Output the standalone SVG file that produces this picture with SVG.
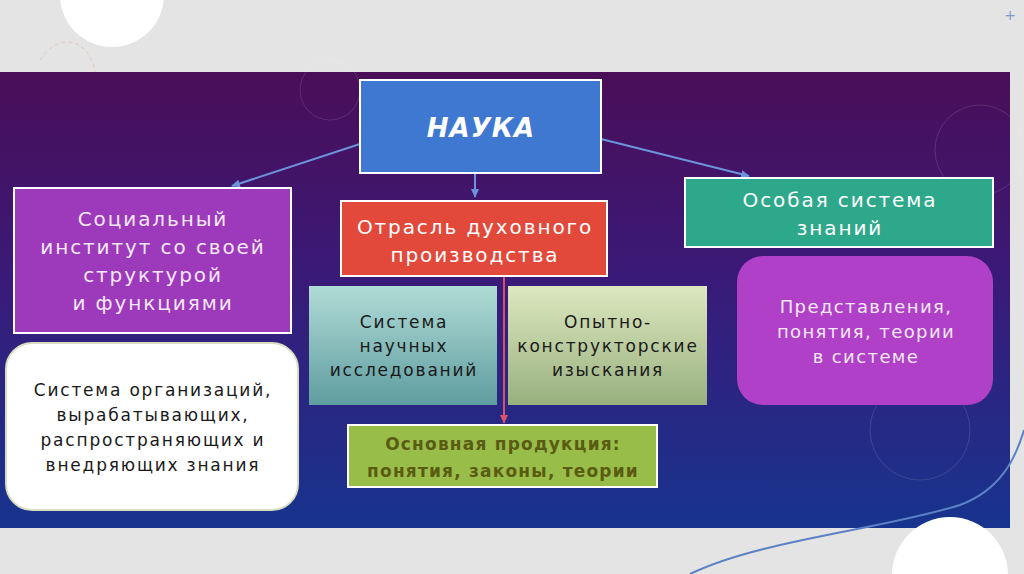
<svg xmlns="http://www.w3.org/2000/svg" width="1024" height="574" viewBox="0 0 1024 574">
<defs>
<linearGradient id="bg" x1="0" y1="0" x2="0" y2="1">
<stop offset="0" stop-color="#4a0e58"/>
<stop offset="0.45" stop-color="#3a1a78"/>
<stop offset="1" stop-color="#17348e"/>
</linearGradient>
<linearGradient id="gTeal" x1="0" y1="0" x2="0" y2="1">
<stop offset="0" stop-color="#b0dcd6"/>
<stop offset="1" stop-color="#5f9ca0"/>
</linearGradient>
<linearGradient id="gOlive" x1="0" y1="0" x2="0" y2="1">
<stop offset="0" stop-color="#dde8c0"/>
<stop offset="1" stop-color="#98b07e"/>
</linearGradient>
<marker id="ab" markerWidth="10" markerHeight="10" refX="8" refY="5" orient="auto" markerUnits="userSpaceOnUse">
<path d="M0,1 L9,5 L0,9 Z" fill="#6d93dc"/>
</marker>
<marker id="ar" markerWidth="10" markerHeight="10" refX="8" refY="5" orient="auto" markerUnits="userSpaceOnUse">
<path d="M0,1 L9,5 L0,9 Z" fill="#d8506a"/>
</marker>
</defs>
<style>
text{font-family:"DejaVu Sans","Open Sans",sans-serif;text-anchor:middle}
.lt{fill:#f3e8f5;font-size:20px;letter-spacing:1.9px}
.dk{fill:#1a1a1a;font-size:17px;letter-spacing:1.8px}
.wb{stroke:#ffffff;stroke-width:2}
.conn{stroke:#6d93dc;stroke-width:2;fill:none}
</style>
<rect x="0" y="0" width="1024" height="574" fill="#e4e4e4"/>
<circle cx="112" cy="-5" r="52" fill="#ffffff"/>
<path d="M40,60 C60,30 90,40 95,72" fill="none" stroke="#e6c9b8" stroke-width="1" stroke-dasharray="4,3"/>
<text x="1010" y="20" style="fill:#7a9cc8;font-size:14px">+</text>
<rect x="0" y="72" width="1010" height="456" fill="url(#bg)"/>
<g fill="none" stroke="#ffffff" stroke-opacity="0.12" stroke-width="1">
<circle cx="330" cy="90" r="30"/>
<circle cx="980" cy="150" r="45"/>
<circle cx="920" cy="430" r="50"/>
</g>
<path d="M690,574 C760,540 880,530 960,505 C1000,490 1015,460 1024,430" fill="none" stroke="#5b82c4" stroke-width="2"/>
<circle cx="950" cy="575" r="58" fill="#ffffff"/>
<g id="connectors">
<line class="conn" x1="360" y1="144" x2="232" y2="186" marker-end="url(#ab)"/>
<line class="conn" x1="475" y1="174" x2="475" y2="197" marker-end="url(#ab)"/>
<line class="conn" x1="601" y1="139" x2="749" y2="176" marker-end="url(#ab)"/>
<line x1="504" y1="276" x2="504" y2="423" stroke="#d8506a" stroke-width="2" marker-end="url(#ar)"/>
</g>
<g id="nauka">
<rect class="wb" x="360" y="80" width="241" height="93" fill="#3f78d0"/>
<text x="481" y="137" style="fill:#ffffff;font-size:26px;font-weight:bold;font-style:italic;letter-spacing:1px">НАУКА</text>
</g>
<g id="social">
<rect class="wb" x="14" y="188" width="277" height="145" fill="#9d39bb"/>
<text class="lt" x="153" y="226">Социальный</text>
<text class="lt" x="153" y="254">институт со своей</text>
<text class="lt" x="153" y="282">структурой</text>
<text class="lt" x="153" y="310">и функциями</text>
</g>
<g id="otrasl">
<rect class="wb" x="341" y="201" width="266" height="75" fill="#e2493a"/>
<text class="lt" x="475" y="234" style="fill:#ffffff">Отрасль духовного</text>
<text class="lt" x="475" y="262" style="fill:#ffffff">производства</text>
</g>
<g id="osobaya">
<rect class="wb" x="685" y="178" width="308" height="69" fill="#2ea88a"/>
<text class="lt" x="840" y="207" style="fill:#ffffff">Особая система</text>
<text class="lt" x="840" y="235" style="fill:#ffffff">знаний</text>
</g>
<g id="sistema-issl">
<rect x="309" y="286" width="188" height="119" fill="url(#gTeal)"/>
<text class="dk" x="404" y="328">Система</text>
<text class="dk" x="404" y="352">научных</text>
<text class="dk" x="404" y="376">исследований</text>
</g>
<g id="opytno">
<rect x="508" y="286" width="199" height="119" fill="url(#gOlive)"/>
<text class="dk" x="608" y="328">Опытно-</text>
<text class="dk" x="608" y="352">конструкторские</text>
<text class="dk" x="608" y="376">изыскания</text>
</g>
<g id="produkcia">
<rect class="wb" x="348" y="425" width="309" height="62" fill="#98bd48"/>
<text x="503" y="450" style="fill:#5a5c14;font-size:17px;font-weight:bold;letter-spacing:1.2px">Основная продукция:</text>
<text x="503" y="477" style="fill:#5a5c14;font-size:17px;font-weight:bold;letter-spacing:1.2px">понятия, законы, теории</text>
</g>
<g id="sistema-org">
<rect x="6" y="343" width="292" height="167" rx="26" fill="#ffffff" stroke="#d8dcc0" stroke-width="2"/>
<text class="dk" x="153" y="396">Система организаций,</text>
<text class="dk" x="153" y="421">вырабатывающих,</text>
<text class="dk" x="153" y="446">распространяющих и</text>
<text class="dk" x="153" y="471">внедряющих знания</text>
</g>
<g id="predstavlenia">
<rect x="737" y="256" width="256" height="149" rx="26" fill="#b040c8"/>
<text class="lt" x="866" y="313" style="font-size:18px;letter-spacing:1.4px">Представления,</text>
<text class="lt" x="866" y="338" style="font-size:18px;letter-spacing:1.4px">понятия, теории</text>
<text class="lt" x="866" y="363" style="font-size:18px;letter-spacing:1.4px">в системе</text>
</g>
</svg>
